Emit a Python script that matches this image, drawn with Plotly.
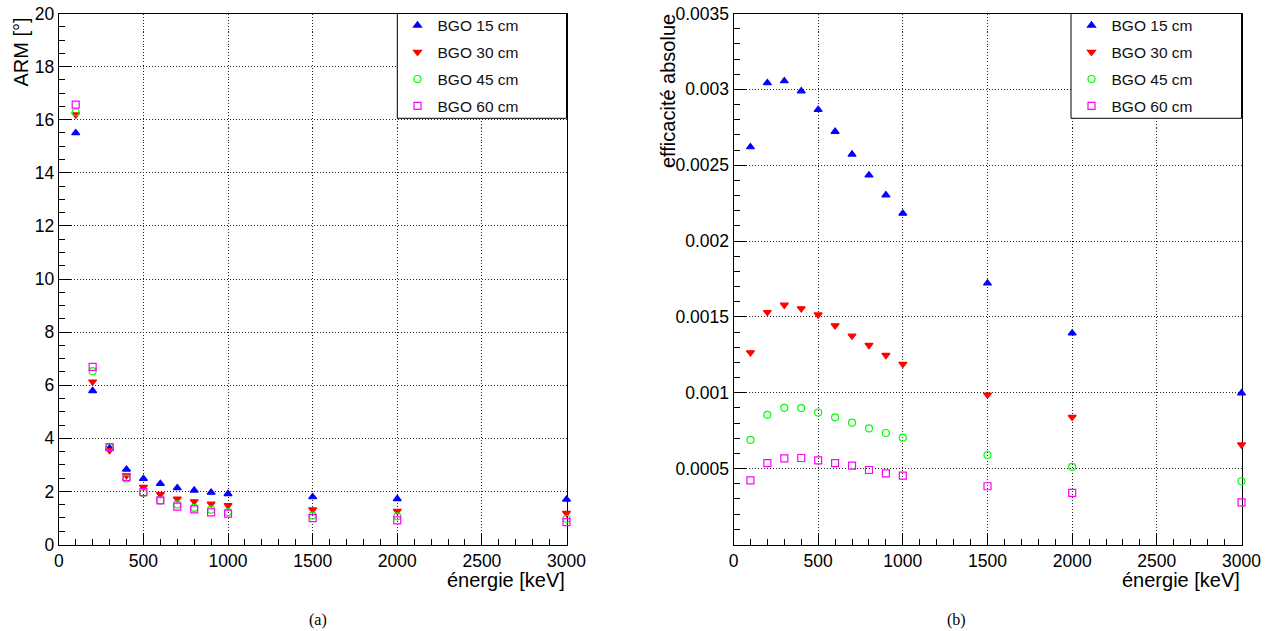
import plotly.graph_objects as go

# ---------------- data ----------------
energies = [100, 200, 300, 400, 500, 600, 700, 800, 900, 1000, 1500, 2000, 3000]

arm_15 = [15.50, 5.79, 3.63, 2.83, 2.48, 2.29, 2.13, 2.04, 1.96, 1.91, 1.79, 1.72, 1.70]
arm_30 = [16.19, 6.13, 3.55, 2.60, 2.16, 1.89, 1.72, 1.62, 1.53, 1.47, 1.31, 1.26, 1.18]
arm_45 = [16.28, 6.53, 3.67, 2.48, 1.94, 1.66, 1.51, 1.38, 1.31, 1.22, 1.09, 1.06, 0.97]
arm_60 = [16.57, 6.69, 3.67, 2.54, 1.97, 1.66, 1.43, 1.32, 1.21, 1.16, 0.99, 0.91, 0.84]

eff_15 = [0.002620, 0.003042, 0.003055, 0.002989, 0.002866, 0.002722, 0.002572,
          0.002434, 0.002303, 0.002182, 0.001722, 0.001393, 0.000998]
eff_30 = [0.001265, 0.001531, 0.001579, 0.001555, 0.001515, 0.001443, 0.001375,
          0.001314, 0.001248, 0.001189, 0.000987, 0.000840, 0.000658]
eff_45 = [0.000689, 0.000855, 0.000901, 0.000899, 0.000870, 0.000838, 0.000803,
          0.000765, 0.000735, 0.000704, 0.000590, 0.000511, 0.000417]
eff_60 = [0.000423, 0.000537, 0.000568, 0.000570, 0.000555, 0.000537, 0.000520,
          0.000491, 0.000469, 0.000454, 0.000384, 0.000340, 0.000278]

series_names = ["BGO 15 cm", "BGO 30 cm", "BGO 45 cm", "BGO 60 cm"]

x_tickvals = [0, 500, 1000, 1500, 2000, 2500, 3000]
x_ticktext = ["0", "500", "1000", "1500", "2000", "2500", "3000"]
arm_tickvals = [0, 2, 4, 6, 8, 10, 12, 14, 16, 18, 20]
arm_ticktext = ["0", "2", "4", "6", "8", "10", "12", "14", "16", "18", "20"]
eff_tickvals = [0.0005, 0.001, 0.0015, 0.002, 0.0025, 0.003, 0.0035]
eff_ticktext = ["0.0005", "0.001", "0.0015", "0.002", "0.0025", "0.003", "0.0035"]

# ---------------- styles ----------------
W, H = 1274, 631
FONT = "Liberation Sans, Arial, Helvetica, sans-serif"
styles = [
    dict(symbol="triangle-up", color="#0000ff", size=7),
    dict(symbol="triangle-down", color="#ff0000", size=7),
    dict(symbol="circle-open", color="#00ff00", size=7),
    dict(symbol="square-open", color="#ff00ff", size=7),
]

fig = go.Figure()

for i, (ys, st) in enumerate(zip([arm_15, arm_30, arm_45, arm_60], styles)):
    fig.add_trace(go.Scatter(
        x=energies, y=ys, mode="markers", name=series_names[i],
        marker=dict(symbol=st["symbol"], color=st["color"], size=st["size"],
                    line=dict(color=st["color"], width=1.2)),
        xaxis="x", yaxis="y", legend="legend", legendgroup="a%d" % i,
        cliponaxis=False,
    ))
for i, (ys, st) in enumerate(zip([eff_15, eff_30, eff_45, eff_60], styles)):
    fig.add_trace(go.Scatter(
        x=energies, y=ys, mode="markers", name=series_names[i],
        marker=dict(symbol=st["symbol"], color=st["color"], size=st["size"],
                    line=dict(color=st["color"], width=1.2)),
        xaxis="x2", yaxis="y2", legend="legend2", legendgroup="b%d" % i,
        cliponaxis=False,
    ))

def px_x(p):
    return p / W

def px_y(p):
    return 1 - p / H

top_px, bot_px = 13.5, 544.5
ydom = [px_y(bot_px), px_y(top_px)]
left_dom = [px_x(58.8), px_x(566.5)]
right_dom = [px_x(733.5), px_x(1241.5)]

common_axis = dict(
    showline=True, linecolor="black", linewidth=1, mirror=True,
    ticks="inside", ticklen=12, tickwidth=1, tickcolor="black",
    showgrid=True, gridcolor="#222222", gridwidth=1, griddash="1px,2px",
    zeroline=False, layer="below traces", automargin=False,
    tickfont=dict(family=FONT, size=17.5, color="black"),
)

legend_common = dict(
    xanchor="left", yanchor="top",
    bgcolor="rgba(0,0,0,0)", borderwidth=0,
    font=dict(family=FONT, size=15.5, color="#111111"),
    traceorder="grouped", tracegroupgap=3.7,
)

fig.update_layout(
    width=W, height=H,
    margin=dict(l=0, r=0, t=0, b=0, autoexpand=False),
    paper_bgcolor="white", plot_bgcolor="white",
    font=dict(family=FONT, color="black"),
    xaxis=dict(domain=left_dom, anchor="y", range=[0, 3000],
               tickmode="array", tickvals=x_tickvals, ticktext=x_ticktext,
               minor=dict(dtick=100, tick0=0, ticks="inside", ticklen=6,
                          tickcolor="black", showgrid=False),
               **common_axis),
    yaxis=dict(domain=ydom, anchor="x", range=[0, 20],
               tickmode="array", tickvals=arm_tickvals, ticktext=arm_ticktext,
               minor=dict(dtick=0.5, tick0=0, ticks="inside", ticklen=6,
                          tickcolor="black", showgrid=False),
               **common_axis),
    xaxis2=dict(domain=right_dom, anchor="y2", range=[0, 3000],
                tickmode="array", tickvals=x_tickvals, ticktext=x_ticktext,
                minor=dict(dtick=100, tick0=0, ticks="inside", ticklen=6,
                           tickcolor="black", showgrid=False),
                **common_axis),
    yaxis2=dict(domain=ydom, anchor="x2", range=[0, 0.0035],
                tickmode="array", tickvals=eff_tickvals, ticktext=eff_ticktext,
                minor=dict(dtick=0.0001, tick0=0, ticks="inside", ticklen=6,
                           tickcolor="black", showgrid=False),
                **common_axis),
    legend=dict(x=px_x(397.5), y=px_y(8.7), **legend_common),
    legend2=dict(x=px_x(1071.5), y=px_y(8.7), **legend_common),
)

# legend frames (white boxes with black border, as in the reference)
shapes = [
    dict(type="rect", xref="paper", yref="paper",
         x0=px_x(397.3), x1=px_x(566.5), y0=px_y(118.3), y1=px_y(top_px),
         fillcolor="white", line=dict(color="black", width=1), layer="above"),
    dict(type="rect", xref="paper", yref="paper",
         x0=px_x(1071.0), x1=px_x(1241.5), y0=px_y(118.3), y1=px_y(top_px),
         fillcolor="white", line=dict(color="black", width=1), layer="above"),
]
fig.update_layout(shapes=shapes)

annotations = [
    dict(text="ARM [°]", x=px_x(21), y=px_y(16), xref="paper", yref="paper",
         xanchor="center", yanchor="top", textangle=-90, showarrow=False,
         font=dict(family=FONT, size=20, color="black")),
    dict(text="efficacité absolue", x=px_x(668), y=px_y(12), xref="paper", yref="paper",
         xanchor="center", yanchor="top", textangle=-90, showarrow=False,
         font=dict(family=FONT, size=20, color="black")),
    dict(text="énergie [keV]", x=px_x(566.5), y=px_y(580), xref="paper", yref="paper",
         xanchor="right", yanchor="middle", showarrow=False,
         font=dict(family=FONT, size=20, color="black")),
    dict(text="énergie [keV]", x=px_x(1241.5), y=px_y(580), xref="paper", yref="paper",
         xanchor="right", yanchor="middle", showarrow=False,
         font=dict(family=FONT, size=20, color="black")),
    dict(text="(a)", x=px_x(318), y=px_y(620), xref="paper", yref="paper",
         xanchor="center", yanchor="middle", showarrow=False,
         font=dict(family="Liberation Serif, DejaVu Serif, serif", size=16, color="black")),
    dict(text="(b)", x=px_x(956), y=px_y(620), xref="paper", yref="paper",
         xanchor="center", yanchor="middle", showarrow=False,
         font=dict(family="Liberation Serif, DejaVu Serif, serif", size=16, color="black")),
]
fig.update_layout(annotations=annotations)

fig.write_html(
    "out.html",
    config={"displayModeBar": False},
    post_script="document.body.style.margin='0px';"
                "document.documentElement.style.overflow='hidden';",
)
